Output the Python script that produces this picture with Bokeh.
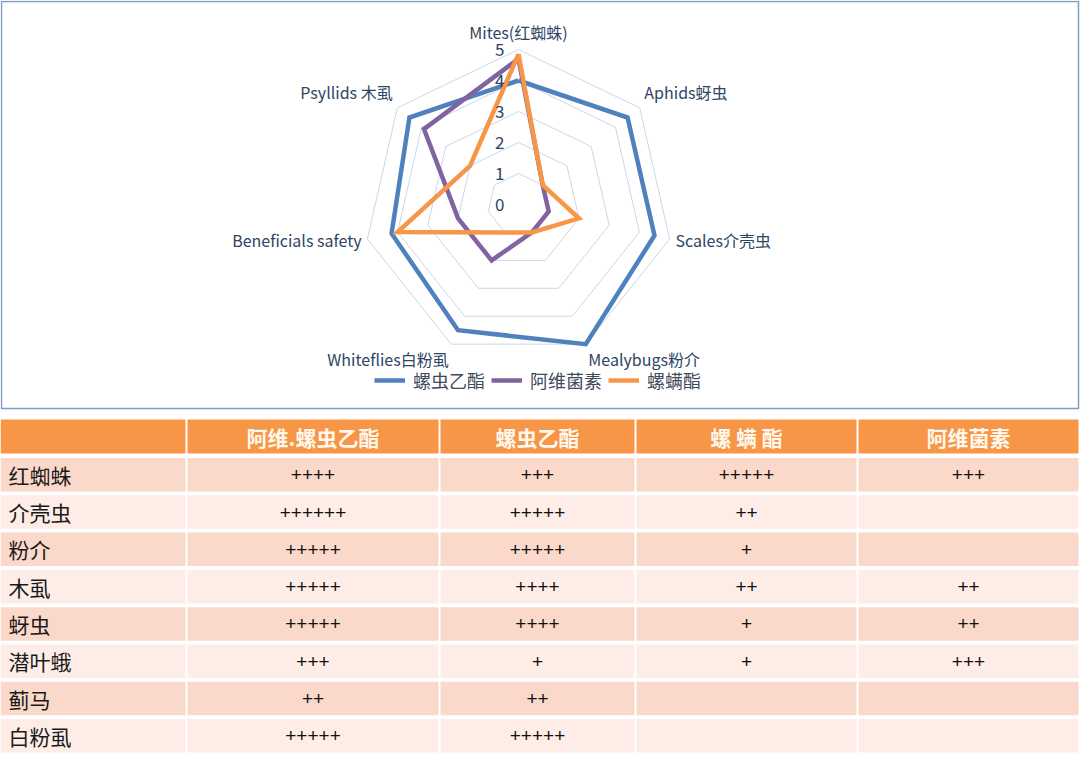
import math
from bokeh.plotting import figure
from bokeh.models import ColumnDataSource, Range1d, Legend, LegendItem
from bokeh.core.properties import value
from bokeh.embed import file_html
from bokeh.resources import INLINE

# ---------------- data ----------------
axis_labels = ["Mites(红蜘蛛)", "Aphids蚜虫", "Scales介壳虫", "Mealybugs粉介",
               "Whiteflies白粉虱", "Beneficials safety", "Psyllids 木虱"]
tick_values = [0, 1, 2, 3, 4, 5]
series_names = ["螺虫乙酯", "阿维菌素", "螺螨酯"]
spirotetramat = [4.0, 4.5, 4.5, 5.0, 4.5, 4.2, 4.5]
abamectin = [4.7, 1.0, 1.0, 1.0, 2.0, 2.0, 3.9]
spirodiclofen = [4.85, 1.0, 2.0, 1.0, 1.0, 4.0, 2.0]
series_values = [spirotetramat, abamectin, spirodiclofen]
series_colors = ["#4F81BD", "#8064A2", "#F79646"]

pests = ["红蜘蛛", "介壳虫", "粉介", "木虱", "蚜虫", "潜叶蛾", "蓟马", "白粉虱"]
table_headers = ["阿维.螺虫乙酯", "螺虫乙酯", "螺 螨 酯", "阿维菌素"]
col_abam_spiro = ["++++", "++++++", "+++++", "+++++", "+++++", "+++", "++", "+++++"]
col_spiro = ["+++", "+++++", "+++++", "++++", "++++", "+", "++", "+++++"]
col_spirodiclofen = ["+++++", "++", "+", "++", "+", "+", "", ""]
col_abam = ["+++", "", "", "++", "++", "+++", "", ""]
table_columns = [col_abam_spiro, col_spiro, col_spirodiclofen, col_abam]

# ---------------- layout ----------------
W, H = 1080, 757

p = figure(width=W, height=H, x_range=Range1d(0, W), y_range=Range1d(H, 0),
           output_backend="svg", toolbar_location=None, min_border=0)
p.axis.visible = False
p.grid.visible = False
p.outline_line_color = None
p.background_fill_color = "white"
p.border_fill_color = "white"

CJK = value("Noto Sans CJK SC")
label_color = "#2E4563"

# chart box
p.quad(left=1, right=1078, top=1, bottom=408, fill_color=None,
       line_color="#7F9CC6", line_width=1.5)

# ---------------- radar ----------------
cx, cy, unit = 518.0, 204.0, 31.0
n = len(axis_labels)
angles = [2 * math.pi * i / n for i in range(n)]


def pt(v, a):
    return cx + v * unit * math.sin(a), cy - v * unit * math.cos(a)


ring_xs, ring_ys = [], []
for v in tick_values[1:]:
    pts = [pt(v, a) for a in angles] + [pt(v, angles[0])]
    ring_xs.append([q[0] for q in pts])
    ring_ys.append([q[1] for q in pts])
p.multi_line(ring_xs, ring_ys, line_color="#C9D7EA", line_width=1)

renderers = []
for vals, col in zip(series_values, series_colors):
    pts = [pt(v, a) for v, a in zip(vals, angles)]
    pts.append(pts[0])
    r = p.line([q[0] for q in pts], [q[1] for q in pts], line_color=col,
               line_width=4.5, line_join="miter")
    renderers.append(r)

# tick labels
p.text(x=[cx - 14] * len(tick_values), y=[cy - v * unit for v in tick_values],
       text=[str(v) for v in tick_values], text_align="right", text_baseline="middle",
       text_font=CJK, text_font_size="17px", text_color=label_color)

# category labels
R_lab = tick_values[-1] * unit + 6
lx, ly, la, lb = [], [], [], []
for a in angles:
    sx, cyv = math.sin(a), math.cos(a)
    lx.append(cx + R_lab * sx)
    below = cyv < -0.5
    ly.append(cy - R_lab * cyv - (3 if below else 0))
    la.append("left" if sx > 0.1 else ("right" if sx < -0.1 else "center"))
    lb.append("bottom" if cyv > 0.5 else ("top" if below else "middle"))
p.text(x="x", y="y", text="t", text_align="a", text_baseline="b",
       source=ColumnDataSource(dict(x=lx, y=ly, t=axis_labels, a=la, b=lb)),
       text_font=CJK, text_font_size="16px", text_color=label_color)

legend = Legend(items=[LegendItem(label=nm, renderers=[r]) for nm, r in zip(series_names, renderers)],
                orientation="horizontal", location=(374, 364), padding=0, margin=0,
                spacing=6, glyph_width=31, glyph_height=20, label_standoff=8,
                label_text_font="Noto Sans CJK SC", label_text_font_size="18px",
                label_text_color="#404A5A", border_line_color=None,
                background_fill_alpha=0)
p.add_layout(legend)

# ---------------- table ----------------
col_edges = [0, 186, 439, 635, 857, 1079]
header_top, header_bottom = 419, 453
row_top0, row_pitch, row_h = 457.5, 37.3, 33.5
header_color = "#F79646"
row_colors = ["#FBD9CA", "#FDEDE6"]

# header cells
hl, hr = [], []
for i in range(len(col_edges) - 1):
    hl.append(col_edges[i] + (1 if i > 0 else 0))
    hr.append(col_edges[i + 1] - 1)
p.quad(left=hl, right=hr, top=[header_top] * len(hl), bottom=[header_bottom] * len(hl),
       fill_color=header_color, line_color=None)

centers = [(col_edges[i] + col_edges[i + 1]) / 2 for i in range(1, len(col_edges) - 1)]
p.text(x=centers, y=[(header_top + header_bottom) / 2] * len(centers), text=table_headers,
       text_align="center", text_baseline="middle", text_font=CJK, text_font_size="21px",
       text_font_style="bold", text_color="#FFF8EE")

# body cells
bl, br, bt, bb, bc = [], [], [], [], []
for r in range(len(pests)):
    top = row_top0 + r * row_pitch
    for i in range(len(col_edges) - 1):
        bl.append(col_edges[i] + (1 if i > 0 else 0))
        br.append(col_edges[i + 1] - 1)
        bt.append(top)
        bb.append(top + row_h)
        bc.append(row_colors[r % 2])
p.quad(left=bl, right=br, top=bt, bottom=bb, fill_color=bc, line_color=None)

row_centers = [row_top0 + r * row_pitch + row_h / 2 for r in range(len(pests))]
p.text(x=[8] * len(pests), y=row_centers, text=pests, text_align="left",
       text_baseline="middle", text_font=CJK, text_font_size="21px", text_color="#1A1A1A")

vx, vy, vt = [], [], []
for ci, colvals in enumerate(table_columns):
    for r, t in enumerate(colvals):
        vx.append(centers[ci])
        vy.append(row_centers[r])
        vt.append(t)
p.text(x=vx, y=vy, text=vt, text_align="center", text_baseline="middle",
       text_font=value("Liberation Sans"), text_font_size="19px", text_color="#111111")

open("out.html", "w").write(file_html(p, INLINE))
